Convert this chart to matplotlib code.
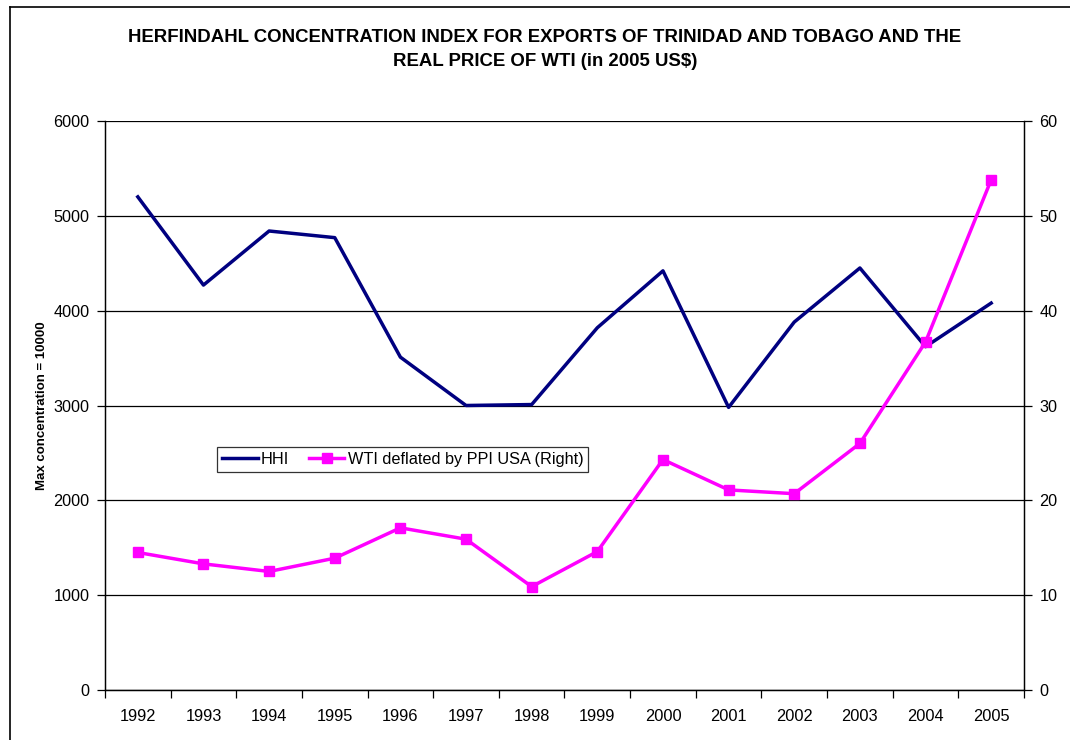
import matplotlib
matplotlib.use("Agg")
import matplotlib.pyplot as plt
import numpy as np
from matplotlib.lines import Line2D

plt.rcParams['font.family'] = ['Liberation Sans', 'DejaVu Sans']

years = ["1992", "1993", "1994", "1995", "1996", "1997", "1998",
         "1999", "2000", "2001", "2002", "2003", "2004", "2005"]
hhi = [5200, 4270, 4840, 4770, 3510, 3000, 3010, 3820, 4420, 2980, 3880, 4450, 3620, 4080]
wti = [14.5, 13.3, 12.5, 13.9, 17.1, 15.9, 10.9, 14.6, 24.3, 21.1, 20.7, 26.0, 36.7, 53.8]

fig = plt.figure(figsize=(10.7, 7.4), dpi=100)
ax = fig.add_axes([105/1070, 50/740, (1024-105)/1070, (690-121)/740])
ax2 = ax.twinx()

x = np.arange(len(years))
ax.plot(x, hhi, color='#000080', lw=2.5, label='HHI', zorder=3)
ax2.plot(x, wti, color='#FF00FF', lw=2.5, marker='s', markersize=7,
         label='WTI deflated by PPI USA (Right)', zorder=3)

ax.set_xlim(-0.5, len(years) - 0.5)
ax.set_ylim(0, 6000)
ax2.set_ylim(0, 60)
ax.set_yticks(np.arange(0, 6001, 1000))
ax2.set_yticks(np.arange(0, 61, 10))
ax.yaxis.grid(True, color='black', lw=0.9)
ax.set_axisbelow(True)

ax.set_xticks(x)
ax.set_xticklabels(years)
ax.set_xticks(np.arange(-0.5, len(years), 1), minor=True)
ax.tick_params(axis='x', which='major', length=0, pad=14, labelsize=11.8)
ax.tick_params(axis='x', which='minor', length=6, width=0.9, direction='out')
ax.tick_params(axis='y', length=6, width=0.9, direction='out', labelsize=11.7, pad=5)
ax2.tick_params(axis='y', length=6, width=0.9, direction='out', labelsize=11.7, pad=5)

for a in (ax, ax2):
    a.spines['top'].set_visible(False)
    for s in ('left', 'right', 'bottom'):
        a.spines[s].set_linewidth(0.9)
        a.spines[s].set_color('black')

ax.set_ylabel('Max concentration = 10000', fontsize=9.5, fontweight='bold', labelpad=4)

fig.text(545/1070, 1 - 38/740,
         'HERFINDAHL CONCENTRATION INDEX FOR EXPORTS OF TRINIDAD AND TOBAGO AND THE',
         ha='center', va='center', fontsize=13.4, fontweight='bold')
fig.text(545/1070, 1 - 62/740, 'REAL PRICE OF WTI (in 2005 US$)',
         ha='center', va='center', fontsize=13.4, fontweight='bold')

h1, l1 = ax.get_legend_handles_labels()
h2, l2 = ax2.get_legend_handles_labels()
leg = ax2.legend(h1 + h2, l1 + l2, loc='lower left',
                 bbox_to_anchor=((217-105)/919, (690-472)/569),
                 ncol=2, fontsize=11.7, frameon=True, fancybox=False,
                 edgecolor='black', handlelength=2.2, handletextpad=0.2,
                 columnspacing=1.2, borderpad=0.3, borderaxespad=0)
leg.get_frame().set_linewidth(0.9)

# chart-area border (top and left edges visible)
fig.add_artist(Line2D([10/1070, 10/1070], [0, 1 - 7/740], transform=fig.transFigure,
                      color='black', lw=1.2))
fig.add_artist(Line2D([10/1070, 1], [1 - 7/740, 1 - 7/740], transform=fig.transFigure,
                      color='black', lw=1.2))

fig.savefig('out.png', dpi=100)
